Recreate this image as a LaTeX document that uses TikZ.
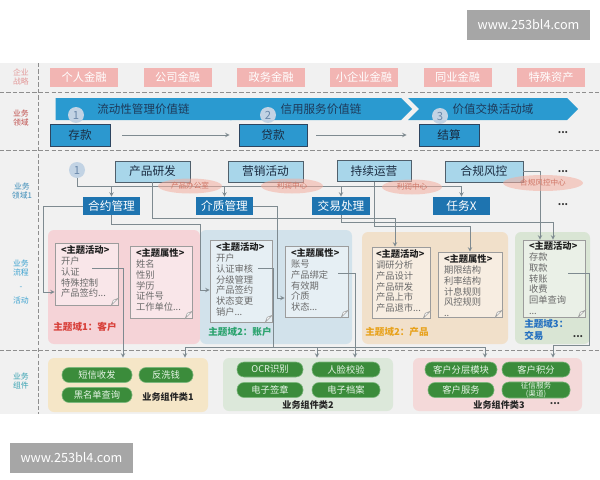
\documentclass[tikz,border=0pt]{standalone}
\usepackage{fontspec}
\setmainfont{Noto Sans CJK SC}
\usetikzlibrary{shapes.geometric, shapes.symbols, arrows, positioning}
\definecolor{bggray}{HTML}{F1F1F1}
\definecolor{wmgray}{HTML}{A6A6A6}
\definecolor{sepgray}{HTML}{8E8E8E}
\definecolor{wiregray}{HTML}{7E8A90}
\definecolor{stratpink}{HTML}{F2B5B3}
\definecolor{chevblue}{HTML}{2A9AD0}
\definecolor{chevtext}{HTML}{1E3A5A}
\definecolor{domblue}{HTML}{2C98CF}
\definecolor{domline}{HTML}{2D4560}
\definecolor{navytext}{HTML}{1A2B40}
\definecolor{dotfill}{HTML}{C2D3E4}
\definecolor{dottext}{HTML}{6A88AA}
\definecolor{lightbox}{HTML}{A8D6EA}
\definecolor{boxline}{HTML}{50606C}
\definecolor{darkbox}{HTML}{1E74B0}
\definecolor{ownerpink}{HTML}{F4AFA0}
\definecolor{ownertext}{HTML}{D07565}
\definecolor{regpink}{HTML}{F5D3D7}
\definecolor{regblue}{HTML}{D2E2EB}
\definecolor{regbeige}{HTML}{F1E0CA}
\definecolor{reggreen}{HTML}{D9E5D4}
\definecolor{papergray}{HTML}{9C9C9C}
\definecolor{itemgray}{HTML}{6A6A6A}
\definecolor{headtext}{HTML}{202020}
\definecolor{labpink}{HTML}{E39B9B}
\definecolor{labred}{HTML}{C0504D}
\definecolor{labblue}{HTML}{3B8CB8}
\definecolor{labsky}{HTML}{3EA3D0}
\definecolor{labteal}{HTML}{3AA3B3}
\definecolor{dom1red}{HTML}{D8403A}
\definecolor{dom2green}{HTML}{2BA36E}
\definecolor{dom2orange}{HTML}{E8A21C}
\definecolor{dom3blue}{HTML}{2470C0}
\definecolor{compbeige}{HTML}{F5E6C7}
\definecolor{compgreen}{HTML}{DCE8DA}
\definecolor{comppink}{HTML}{F4D9D9}
\definecolor{pillgreen}{HTML}{3B8C3B}
\definecolor{pillline}{HTML}{7DB77D}
\definecolor{pilltext}{HTML}{E6F4E6}

\newdimen\pxu \pxu=0.025cm
\newcommand\fsz[2]{\fontsize{#1}{#2}\selectfont}

\tikzset{
  wmark/.style={rectangle, fill=wmgray, text=white, minimum width=123\pxu, minimum height=30\pxu, inner sep=0pt, font=\fsz{9}{10}},
  sepline/.style={draw=sepgray, line width=0.7pt, dash pattern=on 3pt off 1.6pt},
  rowlabel/.style={align=center, inner sep=0pt, font=\fsz{5.6}{7}},
  stratbox/.style={rectangle, fill=stratpink, text=white, minimum width=68\pxu, minimum height=19\pxu, inner sep=0pt, font=\fsz{8}{9}},
  chev/.style={signal, signal to=east, fill=chevblue, text=chevtext, minimum height=22\pxu, inner sep=0pt, font=\fsz{8.2}{9}},
  domainbox/.style={rectangle, fill=domblue, draw=domline, minimum width=60\pxu, minimum height=22\pxu, inner sep=0pt, text=navytext, font=\fsz{8.3}{9}},
  numdot/.style={circle, fill=dotfill, text=dottext, minimum size=16\pxu, inner sep=0pt, font=\fsz{8}{8}},
  taskbox/.style={rectangle, fill=lightbox, draw=boxline, minimum height=21\pxu, inner sep=0pt, text=navytext, font=\fsz{8.3}{9}},
  mgmtbox/.style={rectangle, fill=darkbox, text=white, minimum height=18\pxu, inner sep=0pt, font=\fsz{8.3}{9}},
  owner/.style={ellipse, fill=ownerpink, fill opacity=0.55, text opacity=1, text=ownertext, minimum height=15\pxu, inner sep=0pt, font=\fsz{5.4}{6}},
  dots/.style={inner sep=0pt, text=black!80, font=\bfseries\fsz{7}{8}},
  region/.style={rectangle, rounded corners=6\pxu, inner sep=0pt},
  paper/.style={rectangle, draw=papergray, fill=white, fill opacity=0.45, inner sep=0pt},
  papertext/.style={anchor=north west, align=left, inner sep=0pt, text=itemgray, font=\fsz{6.6}{7.6}},
  domlabel/.style={inner sep=0pt, font=\bfseries\fsz{6.8}{8}},
  pill/.style={rectangle, rounded corners=7\pxu, fill=pillgreen, draw=pillline, text=pilltext, minimum height=15\pxu, inner sep=0pt, font=\fsz{6.6}{7}},
  complabel/.style={inner sep=0pt, text=black!85, font=\bfseries\fsz{6.5}{7}},
  wire/.style={draw=wiregray, line width=0.45pt, >=stealth},
  flow/.style={draw=wiregray, line width=0.5pt, ->, >=stealth}
}

\begin{document}
\begin{tikzpicture}[x=0.025cm, y=-0.025cm]
\useasboundingbox (0,0) rectangle (600,480);
% background and watermarks
\fill[bggray] (0,63) rectangle (600,414);
\node[wmark] (wmTop) at (528.5,25) {www.253bl4.com};
\node[wmark] (wmBottom) at (71.5,458) {www.253bl4.com};

% separators
\draw[sepline] (0,92) -- (600,92);
\draw[sepline] (0,150) -- (600,150);
\draw[sepline] (0,350) -- (600,350);
\draw[sepline] (38,63) -- (38,414);

% row labels
\node[rowlabel, text=labpink] (labStrat) at (21,77) {企业\\战略};
\node[rowlabel, text=labred] (labDomain) at (21,118) {业务\\领域};
\node[rowlabel, text=labblue] (labDomainOne) at (22,191) {业务\\领域1};
\node[rowlabel, text=labsky] (labFlow) at (21,282) {业务\\流程\\[3pt]-\\[3pt]活动};
\node[rowlabel, text=labteal] (labComp) at (21,381) {业务\\组件};

% strategy row
\node[stratbox] (sPersonal) at (84,77.5) {个人金融};
\node[stratbox] (sCorporate) at (177.5,77.5) {公司金融};
\node[stratbox] (sGov) at (271,77.5) {政务金融};
\node[stratbox] (sSmall) at (364,77.5) {小企业金融};
\node[stratbox] (sInter) at (457.5,77.5) {同业金融};
\node[stratbox] (sSpecial) at (551,77.5) {特殊资产};

% value chains
\node[chev, minimum width=187\pxu] (chainLiq) at (143.5,109) {流动性管理价值链};
\node[chev, signal from=west, minimum width=182\pxu] (chainCredit) at (321,109) {信用服务价值链};
\node[chev, signal from=west, minimum width=170\pxu] (chainExch) at (493,109) {价值交换活动域};

% business domains
\node[domainbox] (deposit) at (80,135) {存款};
\node[domainbox, minimum width=68\pxu] (loan) at (273,135) {贷款};
\node[domainbox] (settle) at (449,135) {结算};
\node[dots] (dotsA) at (563,133) {...};
\node[numdot] (numA1) at (76,115) {1};
\node[numdot] (numA2) at (268,115) {2};
\node[numdot] (numA3) at (440,116) {3};
\draw[flow, shorten <=12\pxu, shorten >=9\pxu] (deposit) -- (loan);
\draw[flow, shorten <=9\pxu, shorten >=12\pxu] (loan) -- (settle);

% business domain 1
\node[taskbox, minimum width=75\pxu] (rnd) at (152.5,171.5) {产品研发};
\node[taskbox, minimum width=75\pxu] (mkt) at (265.5,171.5) {营销活动};
\node[taskbox, minimum width=74\pxu] (ops) at (374,171) {持续运营};
\node[taskbox, minimum width=78\pxu] (risk) at (484,171.5) {合规风控};
\node[dots] (dotsB) at (563,172) {...};
\node[mgmtbox, minimum width=57\pxu] (contract) at (111.5,206) {合约管理};
\node[mgmtbox, minimum width=57\pxu] (medium) at (224.5,206) {介质管理};
\node[mgmtbox, minimum width=58\pxu] (trade) at (341,206) {交易处理};
\node[mgmtbox, minimum width=57\pxu] (task) at (461.5,206) {任务X};
\node[dots] (dotsC) at (563,205) {...};
\node[numdot] (numB1) at (77,170) {1};

% subject domains
\node[region, fill=regpink, minimum width=152\pxu, minimum height=114\pxu] (zoneCust) at (124,287) {};
\node[region, fill=regblue, minimum width=152\pxu, minimum height=114\pxu] (zoneAcct) at (276,287) {};
\node[region, fill=regbeige, minimum width=146\pxu, minimum height=112\pxu] (zoneProd) at (435,288) {};
\node[region, fill=reggreen, minimum width=75\pxu, minimum height=112\pxu] (zoneTrade) at (552.5,288) {};

\node[paper, minimum width=63\pxu, minimum height=62\pxu] (nA1) at (86.5,274) {};
\node[paper, minimum width=62\pxu, minimum height=72\pxu] (nA2) at (161,282) {};
\node[paper, minimum width=62\pxu, minimum height=82\pxu] (nB1) at (241,281) {};
\node[paper, minimum width=63\pxu, minimum height=71\pxu] (nB2) at (316.5,281.5) {};
\node[paper, minimum width=58\pxu, minimum height=71\pxu] (nC1) at (401,282.5) {};
\node[paper, minimum width=64\pxu, minimum height=65\pxu] (nC2) at (470,284.5) {};
\node[paper, minimum width=62\pxu, minimum height=77\pxu] (nD1) at (554,278.5) {};
\foreach \p in {nA1,nA2,nB1,nB2,nC1,nC2,nD1}
  \filldraw[draw=papergray, fill=white] ([xshift=-7\pxu]\p.south east) -- ([xshift=-5\pxu,yshift=5\pxu]\p.south east) -- ([yshift=7\pxu]\p.south east) -- cycle;

\node[papertext] (tA1) at ([xshift=6\pxu,yshift=-3\pxu]nA1.north west) {\textbf{\textcolor{headtext}{<主题活动>}}\\开户\\认证\\特殊控制\\产品签约...};
\node[papertext] (tA2) at ([xshift=6\pxu,yshift=-3\pxu]nA2.north west) {\textbf{\textcolor{headtext}{<主题属性>}}\\姓名\\性别\\学历\\证件号\\工作单位...};
\node[papertext] (tB1) at ([xshift=6\pxu,yshift=-3\pxu]nB1.north west) {\textbf{\textcolor{headtext}{<主题活动>}}\\开户\\认证审核\\分级管理\\产品签约\\状态变更\\销户...};
\node[papertext] (tB2) at ([xshift=6\pxu,yshift=-3\pxu]nB2.north west) {\textbf{\textcolor{headtext}{<主题属性>}}\\账号\\产品绑定\\有效期\\介质\\状态...};
\node[papertext] (tC1) at ([xshift=4\pxu,yshift=-3\pxu]nC1.north west) {\textbf{\textcolor{headtext}{<主题活动>}}\\调研分析\\产品设计\\产品研发\\产品上市\\产品退市...};
\node[papertext] (tC2) at ([xshift=6\pxu,yshift=-3\pxu]nC2.north west) {\textbf{\textcolor{headtext}{<主题属性>}}\\期限结构\\利率结构\\计息规则\\风控规则\\..};
\node[papertext] (tD1) at ([xshift=6\pxu,yshift=-2\pxu]nD1.north west) {\textbf{\textcolor{headtext}{<主题活动>}}\\存款\\取款\\转账\\收费\\回单查询\\...};

\node[domlabel, text=dom1red] (tagCust) at (85,327) {主题域1：客户};
\node[domlabel, text=dom2green] (tagAcct) at (240,332) {主题域2：账户};
\node[domlabel, text=dom2orange] (tagProd) at (397,332) {主题域2：产品};
\node[domlabel, text=dom3blue, align=left, anchor=west] (tagTrade) at (524,330) {主题域3：\\交易};
\node[dots] (dotsD) at (578,337) {...};

% business components
\node[region, fill=compbeige, minimum width=160\pxu, minimum height=54\pxu] (comp1) at (128,385) {};
\node[region, fill=compgreen, minimum width=170\pxu, minimum height=53\pxu] (comp2) at (308,384.5) {};
\node[region, fill=comppink, minimum width=169\pxu, minimum height=53\pxu] (comp3) at (497.5,384.5) {};
\node[pill, minimum width=70\pxu] (pSms) at (97,375) {短信收发};
\node[pill, minimum width=54\pxu] (pAml) at (166,375) {反洗钱};
\node[pill, minimum width=70\pxu] (pBlack) at (97,395) {黑名单查询};
\node[complabel] (clOne) at (168,397) {业务组件类1};
\node[pill, minimum width=66\pxu] (pOcr) at (270,369.5) {OCR识别};
\node[pill, minimum width=68\pxu] (pFace) at (346,369.5) {人脸校验};
\node[pill, minimum width=66\pxu] (pSign) at (270,390) {电子签章};
\node[pill, minimum width=68\pxu] (pArch) at (346,390) {电子档案};
\node[complabel] (clTwo) at (308,405) {业务组件类2};
\node[pill, minimum width=72\pxu] (pTier) at (461,369.5) {客户分层模块};
\node[pill, minimum width=68\pxu] (pPoint) at (536,369.5) {客户积分};
\node[pill, minimum width=66\pxu] (pServ) at (461,390) {客户服务};
\node[pill, minimum width=68\pxu, align=center, font=\fsz{5.4}{5.8}] (pCredit) at (536,390) {征信服务\\(渠道)};
\node[complabel] (clThree) at (499,405) {业务组件类3};
\node[dots] (dotsE) at (555,404) {...};

% wiring: domain 1 to subject domains
\coordinate (busEnd) at (461.5,186);
\draw[wire] (numB1.south) |- (busEnd);
\foreach \t in {contract,medium,trade,task}
  \draw[wire,->] (\t.north |- busEnd) -- (\t.north);
\coordinate (kA) at (43,206);
\draw[wire,->] (contract.west) -- (kA) |- ([yshift=-18\pxu]nA1.west);
\coordinate (kB) at (200,224);
\draw[wire,->] (contract.south) |- (kB) |- ([yshift=-9\pxu]nB1.west);
\coordinate (kC) at (277,206);
\draw[wire,->] (medium.east) -- (kC) |- ([yshift=-16.5\pxu]nB2.west);
\coordinate (kD) at (395,218);
\draw[wire,->] (rnd.south) |- (kD) -- (kD |- nC1.north);
\coordinate (kE) at (470,226);
\draw[wire,->] (ops.south) |- (kE) -- (kE |- nC2.north);
\coordinate (kF) at (553,222);
\draw[wire,->] (trade.south) |- (kF) -- (kF |- nD1.north);
\coordinate (kG) at (540,171.5);
\draw[wire,->] (risk.east) -- (kG) -- (kG |- nD1.north);

% wiring: subject domains to components
\coordinate (sA) at (92,268);
\coordinate (kH) at (123,268);
\draw[wire,->] (sA) -- (kH) -- (kH |- comp1.north);
\coordinate (sB) at (258,268);
\coordinate (kI) at (273,347);
\draw[wire] (sB) -| (kI);
\coordinate (kJ) at (185,347);
\coordinate (kK) at (317,347);
\coordinate (kL) at (485,347);
\draw[wire] (kJ) -- (kL);
\foreach \c/\z in {kJ/comp1,kK/comp2,kL/comp3}
  \draw[wire,->] (\c) -- (\c |- \z.north);
\coordinate (sC) at (338,273);
\coordinate (kM) at (355,273);
\draw[wire,->] (sC) -- (kM) -- (kM |- comp2.north);
\coordinate (sD) at (568,273);
\coordinate (kN) at (589,345);
\coordinate (kO) at (553,345);
\draw[wire,->] (sD) -| (kN) -- (kO) -- (kO |- comp3.north);

% owners
\node[owner, minimum width=64\pxu] (ownRnd) at (190,186) {产品办公室};
\node[owner, minimum width=62\pxu] (ownMkt) at (292,186) {利润中心};
\node[owner, minimum width=60\pxu] (ownOps) at (412,187) {利润中心};
\node[owner, minimum width=80\pxu, minimum height=16\pxu] (ownRisk) at (543,183) {合规风控中心};
\end{tikzpicture}
\end{document}
